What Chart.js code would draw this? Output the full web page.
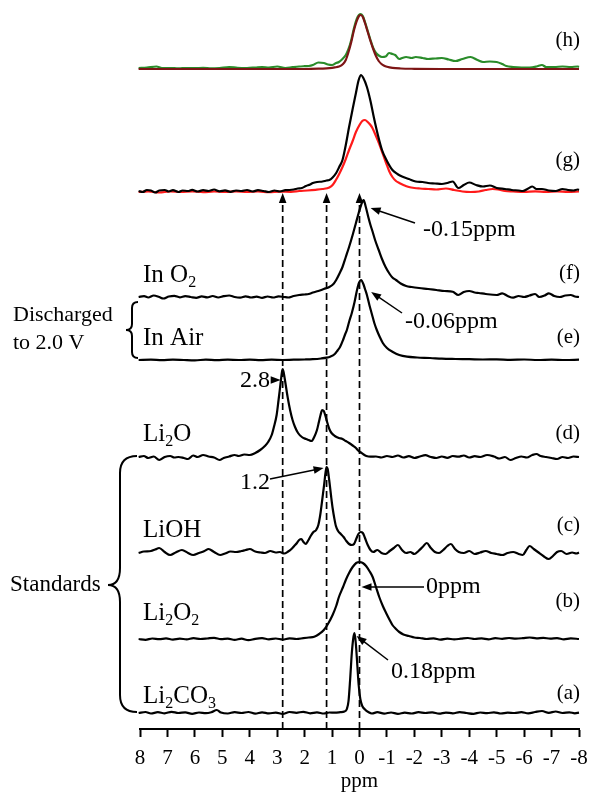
<!DOCTYPE html>
<html>
<head>
<meta charset="utf-8">
<script src="https://cdn.jsdelivr.net/npm/chart.js@4.4.1/dist/chart.umd.min.js"></script>
<style>
  html, body { margin: 0; padding: 0; background: #fff; }
  canvas { display: block; }
</style>
</head>
<body>
<canvas id="nmr" width="590" height="793" style="width:590px;height:793px"></canvas>
<script>
// 7Li MAS NMR spectra, [ppm, intensity] pairs; each spectrum is stacked on its own baseline
const ppmTicks = [8, 7, 6, 5, 4, 3, 2, 1, 0, -1, -2, -3, -4, -5, -6, -7, -8];
const guidePpm = [2.8, 1.2, 0];

const li2co3 = [
  [8.05,0],[7.8,1],[7.6,-0.5],[7.35,0.8],[7.1,-0.3],[6.85,1.2],[6.6,0],[6.35,0.6],[6.1,-0.8],[5.85,0.5],
  [5.6,-0.2],[5.4,0.8],[5.2,3],[5.05,0.5],[4.8,-0.5],[4.55,0.9],[4.3,0],[4.05,1],[3.8,-0.6],[3.55,0.7],
  [3.3,-0.4],[3.05,0.4],[2.8,-1],[2.55,1],[2.3,0.2],[2.05,1.2],[1.8,-0.3],[1.55,0.6],[1.3,-0.5],[1.1,0.5],
  [0.9,0.3],[0.7,0.8],[0.55,1.5],[0.46,4],[0.4,12],[0.34,34],[0.28,60],[0.22,76],[0.18,80],[0.13,68],
  [0.08,48],[0.03,28],[-0.03,14],[-0.1,7],[-0.2,3.5],[-0.32,1],[-0.45,-0.5],[-0.65,0.8],[-0.9,-0.6],[-1.15,0.5],
  [-1.4,-0.8],[-1.65,0.3],[-1.9,-0.5],[-2.15,0.8],[-2.4,0],[-2.65,0.6],[-2.9,-0.7],[-3.15,0.4],[-3.4,-0.3],[-3.65,0.9],
  [-3.9,0],[-4.15,-0.8],[-4.4,0.5],[-4.65,-0.2],[-4.9,0.7],[-5.15,-0.5],[-5.4,0.4],[-5.65,0],[-5.9,0.8],[-6.15,-0.3],
  [-6.4,1],[-6.65,2],[-6.9,0.2],[-7.15,1.5],[-7.4,0],[-7.65,0.7],[-7.85,-0.3],[-8,0.4]
];
const li2o2 = [
  [8.05,0],[7.8,-0.8],[7.55,0.5],[7.3,-0.2],[7.05,0.6],[6.8,-0.6],[6.55,0.3],[6.3,-0.3],[6.05,0.8],[5.8,0],
  [5.55,0.5],[5.3,1.2],[5.05,-0.2],[4.8,0.4],[4.55,-0.8],[4.3,0.3],[4.05,-1.2],[3.8,0.2],[3.55,0.8],[3.3,-0.3],
  [3.05,0.5],[2.8,-0.5],[2.55,0.6],[2.3,0],[2.05,0.8],[1.85,1.5],[1.65,2.2],[1.47,5],[1.3,9],[1.15,15],
  [0.98,24],[0.85,33],[0.75,42],[0.6,52],[0.5,59],[0.38,66],[0.25,72],[0.12,76],[0,77],[-0.12,76],
  [-0.24,73],[-0.36,68],[-0.48,62],[-0.6,52],[-0.72,42],[-0.85,33],[-0.97,26],[-1.1,19],[-1.2,14],[-1.33,10],
  [-1.45,7],[-1.6,4.5],[-1.8,3],[-2,1.5],[-2.2,1],[-2.45,0],[-2.7,0.6],[-2.95,-0.6],[-3.2,0.4],[-3.45,-0.4],
  [-3.7,0.3],[-3.95,1],[-4.2,0],[-4.45,0.6],[-4.7,-0.3],[-4.95,0.8],[-5.2,0.2],[-5.45,1],[-5.7,0.4],[-5.95,0.8],
  [-6.2,1.5],[-6.45,0.6],[-6.7,1.2],[-6.95,0.3],[-7.2,0.9],[-7.45,-0.3],[-7.7,0.6],[-8,0]
];
const lioh = [
  [8.05,0],[7.86,1.5],[7.6,2],[7.45,3.5],[7.3,5],[7.1,1],[6.9,-2],[6.7,0.5],[6.47,3],[6.25,0],
  [6.06,-2],[5.85,0],[5.65,2],[5.5,4],[5.3,1],[5.08,-2],[4.9,-0.5],[4.7,1.5],[4.5,1],[4.3,2],
  [4.15,3],[4,4],[3.8,1.5],[3.6,0.5],[3.45,0],[3.25,2],[3.05,0.5],[2.9,1],[2.75,-0.5],[2.6,1.5],
  [2.48,4],[2.38,7],[2.28,10],[2.2,13],[2.12,14],[2.04,11],[1.96,9],[1.88,12],[1.78,17],[1.68,21],
  [1.58,23],[1.5,28],[1.42,40],[1.35,55],[1.29,68],[1.24,80],[1.2,86],[1.16,84],[1.1,72],[1.04,58],
  [0.98,45],[0.92,35],[0.86,27],[0.78,22],[0.68,19],[0.58,16],[0.48,12],[0.38,9],[0.28,8],[0.2,9],
  [0.12,14],[0.04,19],[-0.04,21],[-0.12,20],[-0.2,15],[-0.3,8],[-0.4,3],[-0.5,1],[-0.65,3],[-0.8,0],
  [-0.95,-1],[-1.1,2],[-1.25,5],[-1.4,8],[-1.55,3],[-1.7,0],[-1.85,1],[-2,-1],[-2.15,2],[-2.3,6],
  [-2.45,10],[-2.6,5],[-2.75,1],[-2.9,0],[-3.05,3],[-3.2,7],[-3.33,9],[-3.48,4],[-3.62,1],[-3.8,0],
  [-4,2],[-4.2,-1],[-4.4,0.5],[-4.6,2],[-4.8,0],[-5,-1],[-5.2,-2],[-5.4,0],[-5.6,1],[-5.8,-1],
  [-5.95,-2],[-6.08,3],[-6.2,7],[-6.35,4],[-6.5,1],[-6.7,-3],[-6.9,-6],[-7.05,-3],[-7.2,1],[-7.35,2],
  [-7.55,-1],[-7.75,0.5],[-7.9,-0.5],[-8,0.5]
];
const li2o = [
  [8.05,0],[7.86,1],[7.7,-1],[7.5,0.5],[7.3,-3],[7.1,0],[6.9,1],[6.75,-0.5],[6.6,0],[6.4,-1],
  [6.25,-2],[6.06,1.5],[5.9,0],[5.7,2],[5.5,0.5],[5.3,-0.5],[5.1,-3],[4.95,-1],[4.75,0.5],[4.55,2],
  [4.4,1],[4.2,2.5],[4,2],[3.8,4],[3.62,7],[3.45,11],[3.33,15],[3.2,22],[3.12,30],[3.02,42],
  [2.95,57],[2.88,73],[2.82,86],[2.8,88],[2.76,84],[2.7,74],[2.62,60],[2.53,47],[2.44,37],[2.35,30],
  [2.24,24],[2.1,20],[1.95,18],[1.85,17],[1.75,16],[1.65,20],[1.55,27],[1.48,35],[1.42,42],[1.36,47],
  [1.3,46],[1.24,41],[1.18,35],[1.1,28],[1.02,24],[0.9,21],[0.75,19],[0.62,18],[0.5,16],[0.38,14],
  [0.25,11.5],[0.13,9],[0.05,6.5],[-0.05,4.5],[-0.15,2.5],[-0.25,1],[-0.4,0.3],[-0.6,0.5],[-0.8,-0.5],[-1,1],
  [-1.2,0],[-1.4,1.5],[-1.6,-0.5],[-1.8,0.8],[-2,-1],[-2.2,0.5],[-2.4,1.8],[-2.6,0],[-2.8,-1],[-3,0.5],
  [-3.2,-0.8],[-3.4,1],[-3.6,0.3],[-3.8,1.5],[-4,-0.5],[-4.2,0.8],[-4.4,0],[-4.65,2],[-4.9,0.5],[-5.1,-1.5],
  [-5.3,0],[-5.5,-3],[-5.7,-1],[-5.9,0.5],[-6.1,-0.5],[-6.3,2],[-6.45,3],[-6.6,1],[-6.8,0],[-7,-1],
  [-7.2,-2],[-7.4,0],[-7.6,-1],[-7.8,0.5],[-8,0]
];
const inAir = [
  [8.05,0],[7.6,0.3],[7.2,-0.2],[6.8,0.4],[6.4,0],[6,-0.3],[5.6,0.3],[5.2,-0.2],[4.8,0.3],[4.4,0],
  [4,0.4],[3.6,-0.2],[3.2,0.3],[2.8,0],[2.4,0.3],[2,0.5],[1.7,0.8],[1.4,1.5],[1.2,2.3],[1.07,3.3],
  [0.9,6],[0.8,9.5],[0.71,13],[0.6,20],[0.52,26],[0.46,30],[0.37,39],[0.28,47],[0.18,58],[0.09,70],
  [0.02,77],[-0.06,80],[-0.14,76],[-0.2,71],[-0.27,65],[-0.36,55],[-0.45,46],[-0.54,37],[-0.63,30],[-0.74,23],
  [-0.85,17],[-1,12],[-1.2,8.3],[-1.45,5],[-1.73,3.3],[-2.1,2.5],[-2.57,2],[-3,1.3],[-3.5,1],[-4,0.8],
  [-4.5,0.5],[-5,0.7],[-5.5,0.2],[-6,0.5],[-6.5,0],[-7,0.4],[-7.5,0],[-8,0.3]
];
const inO2 = [
  [8.05,0],[7.85,0.8],[7.7,-0.5],[7.5,1.5],[7.3,0],[7.15,-1.5],[6.95,0.5],[6.75,1.2],[6.55,-0.3],[6.35,0.8],
  [6.15,0],[5.95,-0.8],[5.75,0.6],[5.55,-0.4],[5.35,1],[5.15,-0.5],[4.95,0.8],[4.75,1.5],[4.55,0],[4.35,-0.6],
  [4.15,0.7],[3.95,-0.5],[3.75,0.3],[3.55,-0.8],[3.35,0.5],[3.15,-0.5],[2.95,0.6],[2.75,0],[2.6,-0.5],[2.4,1],
  [2.2,2],[2,2.5],[1.85,3],[1.7,4.5],[1.5,6],[1.3,8],[1.1,10],[0.95,13],[0.85,17],[0.72,24],
  [0.62,30],[0.5,40],[0.38,50],[0.25,62],[0.13,74],[0.03,84],[-0.06,92],[-0.15,97],[-0.23,90],[-0.32,80],
  [-0.4,72],[-0.47,66],[-0.58,56],[-0.7,47],[-0.82,38],[-0.95,30],[-1.1,23],[-1.2,19.5],[-1.33,17],[-1.5,13.5],
  [-1.7,11],[-1.9,10],[-2.17,9],[-2.5,8],[-2.8,7],[-3.1,6],[-3.4,5.3],[-3.6,2],[-3.8,5],[-4,6],
  [-4.2,4.5],[-4.35,4],[-4.6,3],[-5,2],[-5.2,3.7],[-5.4,1],[-5.6,-0.7],[-5.8,1],[-6,0],[-6.2,1.5],
  [-6.4,3],[-6.55,0],[-6.75,1.5],[-6.9,3.7],[-7.1,1],[-7.3,0],[-7.5,1.5],[-7.7,2],[-7.85,0.5],[-8,0]
];
const specG = [
  [8.05,0],[7.9,-1],[7.75,1],[7.6,0.5],[7.45,-1.5],[7.3,0.5],[7.1,1],[6.95,-0.5],[6.8,0.8],[6.6,-1],
  [6.45,0.5],[6.25,0],[6.1,1.2],[5.9,-0.5],[5.7,0.8],[5.5,0],[5.3,1.5],[5.1,-0.3],[4.9,0.6],[4.7,-0.8],
  [4.5,0.5],[4.3,0],[4.1,1],[3.9,-0.5],[3.7,0.8],[3.5,0],[3.3,-1],[3.1,0.5],[2.9,-0.5],[2.7,0.8],
  [2.55,1],[2.4,1.5],[2.25,2.5],[2.1,3],[1.95,5],[1.8,6.5],[1.7,8],[1.55,9],[1.35,9.5],[1.2,10.5],
  [1.1,11],[0.98,13.5],[0.85,18],[0.74,24],[0.62,31],[0.5,46],[0.38,64],[0.25,82],[0.13,98],[0.04,110],
  [-0.05,116],[-0.14,113],[-0.27,104],[-0.4,90],[-0.52,74],[-0.67,56],[-0.82,41],[-1,30],[-1.2,21],[-1.38,17],
  [-1.55,14.5],[-1.8,12],[-2.05,9.5],[-2.3,9],[-2.5,8],[-2.75,7.5],[-3,7],[-3.2,8],[-3.4,9.5],[-3.6,3],
  [-3.8,6],[-4,8.5],[-4.25,6],[-4.5,4.5],[-4.75,5.5],[-5,3],[-5.3,2],[-5.55,1],[-5.8,0.5],[-5.95,0],
  [-6.15,2.5],[-6.3,4.5],[-6.45,2],[-6.65,2],[-6.9,0.5],[-7.15,0],[-7.4,2],[-7.6,1],[-7.8,0.5],[-7.95,1.5],
  [-8,1]
];
const fitG = [
  [8.05,-1],[7.7,-0.5],[7.3,-1.5],[6.9,-0.5],[6.5,-1],[6.1,-0.3],[5.7,-1.2],[5.3,-0.5],[4.9,-1],[4.5,-0.3],
  [4.1,-1],[3.7,-0.5],[3.3,-1.2],[2.9,-0.6],[2.5,-0.8],[2.2,0],[1.9,0.5],[1.6,1.2],[1.35,2],[1.1,3.5],
  [0.98,6],[0.86,11],[0.74,17],[0.62,24],[0.5,32],[0.38,41],[0.25,50],[0.13,59],[0,66],[-0.1,70],
  [-0.2,71],[-0.3,69],[-0.4,66],[-0.47,63],[-0.6,55],[-0.72,47],[-0.85,37],[-0.97,28],[-1.08,20],[-1.2,14],
  [-1.33,10],[-1.45,8],[-1.6,6],[-1.8,4],[-2,3],[-2.2,2.5],[-2.5,2],[-2.8,1.5],[-3.15,2.5],[-3.45,1],
  [-3.75,-0.5],[-4.05,-1],[-4.35,-0.5],[-4.6,1],[-4.85,2],[-5.05,1.5],[-5.3,0],[-5.6,-0.5],[-6,-1],[-6.4,-0.3],
  [-6.8,-0.8],[-7.2,-0.3],[-7.6,-0.8],[-8,-0.5]
];
const specH = [
  [8.05,1],[7.75,1.5],[7.4,2.5],[7.2,1],[6.9,1],[6.6,0.6],[6.3,1],[6,0.8],[5.7,1.2],[5.4,0.6],
  [5.1,1],[4.75,2],[4.45,1.2],[4.1,1],[3.8,1.5],[3.55,2],[3.3,1.5],[3,2.5],[2.7,1],[2.45,1.8],
  [2.2,2.5],[2,2.8],[1.85,3],[1.7,4],[1.5,6.5],[1.3,6],[1.15,4.5],[1,4],[0.85,6],[0.75,7],
  [0.62,10],[0.5,14],[0.4,20],[0.3,29],[0.2,41],[0.1,50],[0.02,54],[-0.05,55],[-0.12,53],[-0.2,47],
  [-0.3,38],[-0.4,29],[-0.5,21],[-0.6,16],[-0.7,13.5],[-0.82,12],[-0.95,12.5],[-1.08,16],[-1.2,15],[-1.3,14],
  [-1.45,10],[-1.55,11],[-1.7,12],[-1.9,11],[-2.05,12],[-2.3,11],[-2.5,10],[-2.75,10.5],[-3,11],[-3.25,9.5],
  [-3.5,8],[-3.75,10],[-4.05,12],[-4.3,9],[-4.5,7],[-4.75,7.5],[-5,7],[-5.2,5],[-5.35,3],[-5.6,2],
  [-5.9,1.5],[-6.2,1.5],[-6.45,2.5],[-6.65,4],[-6.8,2],[-7.1,2],[-7.4,2.5],[-7.7,2],[-7.95,2.5],[-8,2]
];
const fitH = [
  [8.05,0],[4,0],[2,0],[1.5,0.3],[1.2,0.7],[1,1.2],[0.9,1.6],[0.75,2.5],[0.6,5],[0.5,9],
  [0.4,17],[0.3,27],[0.2,39],[0.1,48],[0.02,53],[-0.05,54],[-0.12,52],[-0.2,46],[-0.3,37],[-0.4,28],
  [-0.5,20],[-0.6,13],[-0.7,8],[-0.8,5],[-0.9,3.2],[-1,2.2],[-1.2,1.1],[-1.5,0.5],[-2,0.2],[-3,0],[-8,0]
];

// vertical stacking offsets (a) ... (h)
const stackOffsets = [16, 90, 176, 272, 369, 432, 538, 660];
const peakLabels = ['-0.15ppm', '-0.06ppm', '2.8', '1.2', '0ppm', '0.18ppm'];

const SERIF = '"Liberation Serif", "Times New Roman", serif';

function stacked(points, offset) {
  return points.map(([ppm, v]) => ({ x: ppm, y: offset + v }));
}

function line(points, offset, color, order) {
  return {
    data: stacked(points, offset),
    borderColor: color,
    borderWidth: 2.2,
    pointRadius: 0,
    cubicInterpolationMode: 'monotone',
    clip: 4,
    order: order
  };
}

function peakOf(points) {
  return points.reduce((m, p) => (p[1] > m[1] ? p : m));
}

function arrowHead(ctx, fx, fy, tx, ty, len, half) {
  const a = Math.atan2(ty - fy, tx - fx);
  ctx.beginPath();
  ctx.moveTo(tx, ty);
  ctx.lineTo(tx - len * Math.cos(a) + half * Math.sin(a), ty - len * Math.sin(a) - half * Math.cos(a));
  ctx.lineTo(tx - len * Math.cos(a) - half * Math.sin(a), ty - len * Math.sin(a) + half * Math.cos(a));
  ctx.closePath();
  ctx.fill();
}

function arrow(ctx, fx, fy, tx, ty) {
  const a = Math.atan2(ty - fy, tx - fx);
  ctx.beginPath();
  ctx.moveTo(fx, fy);
  ctx.lineTo(tx - 6 * Math.cos(a), ty - 6 * Math.sin(a));
  ctx.stroke();
  arrowHead(ctx, fx, fy, tx, ty, 10, 3.8);
}

// text with alternating normal / subscript pieces
function formula(ctx, parts, x, y, size) {
  let cx = x;
  parts.forEach((p, i) => {
    const sub = i % 2 === 1;
    ctx.font = (sub ? Math.round(size * 0.64) : size) + 'px ' + SERIF;
    ctx.fillText(p, cx, sub ? y + size * 0.2 : y);
    cx += ctx.measureText(p).width;
  });
}

// curly brace opening to the right
function brace(ctx, xTip, xLine, xEnd, yTop, yMid, yBot) {
  const r = xEnd - xLine;
  ctx.beginPath();
  ctx.moveTo(xEnd, yTop);
  ctx.quadraticCurveTo(xLine, yTop, xLine, yTop + r);
  ctx.lineTo(xLine, yMid - r);
  ctx.quadraticCurveTo(xLine, yMid, xTip, yMid);
  ctx.quadraticCurveTo(xLine, yMid, xLine, yMid + r);
  ctx.lineTo(xLine, yBot - r);
  ctx.quadraticCurveTo(xLine, yBot, xEnd, yBot);
  ctx.stroke();
}

const overlay = {
  id: 'overlay',
  afterDatasetsDraw(chart) {
    const { ctx, scales: { x, y } } = chart;
    const px = v => x.getPixelForValue(v);
    const py = v => y.getPixelForValue(v);
    ctx.save();
    ctx.fillStyle = '#000';
    ctx.strokeStyle = '#000';

    // dashed guides from the axis up to spectrum (g)
    ctx.lineWidth = 1.7;
    ctx.setLineDash([7, 4]);
    const guideTop = py(stackOffsets[6]) + 2;
    guidePpm.forEach(p => {
      ctx.beginPath();
      ctx.moveTo(px(p), py(0));
      ctx.lineTo(px(p), guideTop + 6);
      ctx.stroke();
    });
    ctx.setLineDash([]);
    guidePpm.forEach(p => arrowHead(ctx, px(p), guideTop + 20, px(p), guideTop, 10, 3.8));

    // peak callouts
    const tip = (pts, off, dx, dy) => {
      const pk = peakOf(pts);
      return [px(pk[0]) + dx, py(off + pk[1]) + dy];
    };
    const callouts = [
      { t: tip(inO2, stackOffsets[5], 7, 8), from: [415, 223], tx: 423, ty: 230, align: 'left' },
      { t: tip(inAir, stackOffsets[4], 10, 12), from: [402, 313], tx: 405, ty: 322, align: 'left' },
      { t: tip(li2o, stackOffsets[3], -2, 11), from: [272, 380], tx: 270, ty: 381, align: 'right' },
      { t: tip(lioh, stackOffsets[2], -3, 1), from: [270, 479], tx: 240, ty: 483, align: 'left' },
      { t: tip(li2o2, stackOffsets[1], 2, 25), from: [424, 587], tx: 426, ty: 587, align: 'left' },
      { t: tip(li2co3, stackOffsets[0], 2, 3), from: [388, 660], tx: 391, ty: 672, align: 'left' }
    ];
    ctx.lineWidth = 1.5;
    ctx.font = '24px ' + SERIF;
    ctx.textBaseline = 'middle';
    callouts.forEach((c, i) => {
      arrow(ctx, c.from[0], c.from[1], c.t[0], c.t[1]);
      ctx.textAlign = c.align;
      ctx.fillText(peakLabels[i], c.tx, c.ty);
    });

    // spectrum letters on the right
    ctx.font = '21px ' + SERIF;
    ctx.textAlign = 'right';
    [['(h)', 40], ['(g)', 160], ['(f)', 273], ['(e)', 337], ['(d)', 433], ['(c)', 525], ['(b)', 601], ['(a)', 693]]
      .forEach(([t, yy]) => ctx.fillText(t, 580, yy));

    // sample names on the left
    ctx.textAlign = 'left';
    ctx.textBaseline = 'alphabetic';
    formula(ctx, ['In O', '2'], 143, 282, 25);
    formula(ctx, ['In Air'], 143, 345, 25);
    formula(ctx, ['Li', '2', 'O'], 143, 441, 25);
    formula(ctx, ['LiOH'], 143, 537, 25);
    formula(ctx, ['Li', '2', 'O', '2'], 143, 620, 25);
    formula(ctx, ['Li', '2', 'CO', '3'], 143, 703, 25);

    // group braces
    ctx.lineWidth = 2;
    brace(ctx, 126, 132, 138, 302, 330, 358);
    brace(ctx, 108, 120, 137, 456, 585, 712);
    ctx.textBaseline = 'middle';
    ctx.font = '22px ' + SERIF;
    ctx.fillText('Discharged', 13, 315);
    ctx.fillText('to 2.0 V', 13, 343);
    ctx.font = '23px ' + SERIF;
    ctx.fillText('Standards', 10, 585);
    ctx.restore();
  }
};

new Chart(document.getElementById('nmr'), {
  type: 'line',
  data: {
    datasets: [
      line(li2co3, stackOffsets[0], '#000', 0),
      line(li2o2, stackOffsets[1], '#000', 0),
      line(lioh, stackOffsets[2], '#000', 0),
      line(li2o, stackOffsets[3], '#000', 0),
      line(inAir, stackOffsets[4], '#000', 0),
      line(inO2, stackOffsets[5], '#000', 0),
      line(specG, stackOffsets[6], '#000', 0),
      line(fitG, stackOffsets[6], '#ff1a1a', 1),
      line(fitH, stackOffsets[7], '#7d1515', 0),
      line(specH, stackOffsets[7], '#2a8c2a', 1)
    ]
  },
  options: {
    responsive: false,
    animation: false,
    devicePixelRatio: 1,
    layout: { padding: { left: 140, right: 11, top: 5, bottom: 0 } },
    plugins: { legend: { display: false }, tooltip: { enabled: false } },
    scales: {
      x: {
        type: 'linear',
        min: -8,
        max: 8,
        reverse: true,
        afterBuildTicks: s => { s.ticks = ppmTicks.map(v => ({ value: v })); },
        afterFit: s => { s.height = 64; },
        border: { display: true, color: '#000', width: 2 },
        grid: { drawOnChartArea: false, drawTicks: true, tickLength: 8, tickWidth: 2, tickColor: '#000' },
        ticks: {
          color: '#000',
          padding: 2,
          maxRotation: 0,
          autoSkip: false,
          font: { family: SERIF, size: 21, lineHeight: 1.85 },
          callback: v => String(v)
        },
        title: {
          display: true,
          text: 'ppm',
          color: '#000',
          font: { family: SERIF, size: 21, lineHeight: 0.8 },
          padding: { top: 0, bottom: 3 }
        }
      },
      y: { display: false, min: 0, max: 724 }
    }
  },
  plugins: [overlay]
});
</script>
</body>
</html>
